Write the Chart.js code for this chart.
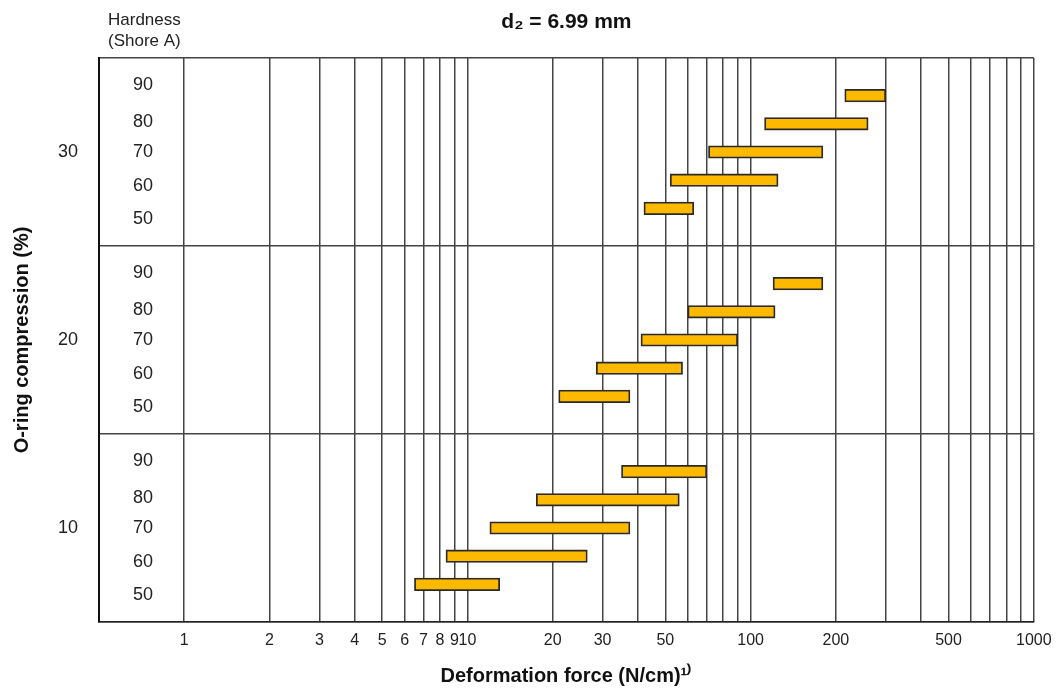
<!DOCTYPE html>
<html>
<head>
<meta charset="utf-8">
<script src="https://cdn.jsdelivr.net/npm/chart.js@4.4.1/dist/chart.umd.min.js"></script>
<style>
  html, body { margin: 0; padding: 0; background: #fff; }
  #wrap { width: 1061px; height: 693px; position: relative; }
</style>
</head>
<body>
<div id="wrap"><canvas id="grafico"></canvas></div>
<script>
// DATA
const compression = [10, 20, 30];          // O-ring compression (%)
const hardness = [50, 60, 70, 80, 90];     // Shore A
// deformation force ranges (N/cm), one entry per hardness
const forceLow10 = [6.5, 8.4, 12, 17.5, 35];
const forceHigh10 = [13, 26.5, 37.5, 56, 70];
const forceLow20 = [21, 28.5, 41, 60, 120];
const forceHigh20 = [37.5, 57.5, 90, 122, 180];
const forceLow30 = [42, 52, 71, 112, 215];
const forceHigh30 = [63, 125, 180, 260, 300];
// x axis
const xGridValues = [1, 2, 3, 4, 5, 6, 7, 8, 9, 10, 20, 30, 40, 50, 60, 70, 80, 90,
  100, 200, 300, 400, 500, 600, 700, 800, 900, 1000];
const xLabelValues = [1, 2, 3, 4, 5, 6, 7, 8, 9, 10, 20, 30, 50, 100, 200, 500, 1000];

// each compression band is 10 units tall on the y scale
const bandHeight = 10;
const barRowOffset = [2, 3.5, 5, 6.5, 8];
const labelRowOffset = [1.45, 3.2, 5, 6.6, 8.55];

const fontFamily = '"Liberation Sans", Arial, Helvetica, sans-serif';
const lineColor = '#444';

// build bar points
const lows = [forceLow10, forceLow20, forceLow30];
const highs = [forceHigh10, forceHigh20, forceHigh30];
let barPoints = [];
for (let b = 0; b < compression.length; b++) {
  for (let i = 0; i < hardness.length; i++) {
    barPoints.push({ x: [lows[b][i], highs[b][i]], y: b * bandHeight + barRowOffset[i] });
  }
}

let hardnessTicks = [];
for (let b = 0; b < compression.length; b++) {
  for (let i = 0; i < hardness.length; i++) {
    hardnessTicks.push(b * bandHeight + labelRowOffset[i]);
  }
}

// "Hardness (Shore A)" heading above the hardness column
const hardnessHeading = {
  id: 'hardnessHeading',
  afterDraw(chart) {
    const ctx = chart.ctx;
    ctx.save();
    ctx.font = '17px ' + fontFamily;
    ctx.fillStyle = '#222';
    ctx.textBaseline = 'middle';
    ctx.textAlign = 'left';
    ctx.fillText('Hardness', chart.chartArea.left + 9, 20);
    ctx.fillText('(Shore A)', chart.chartArea.left + 9, 41);
    ctx.restore();
  }
};

new Chart(document.getElementById('grafico'), {
  type: 'bar',
  data: {
    datasets: [{
      data: barPoints,
      backgroundColor: '#FDB900',
      borderColor: '#2a2a2a',
      borderWidth: 1.8,
      borderSkipped: false,
      barThickness: 12.5
    }]
  },
  options: {
    indexAxis: 'y',
    responsive: true,
    maintainAspectRatio: false,
    animation: false,
    layout: { padding: { left: 6, right: 27, top: 0, bottom: 0 } },
    plugins: {
      legend: { display: false },
      tooltip: { enabled: false },
      title: {
        display: true,
        text: 'd₂ = 6.99 mm',
        fullSize: false,
        color: '#111',
        font: { family: fontFamily, size: 21, weight: 'bold' },
        padding: { top: 9.4, bottom: 23.4 }
      }
    },
    scales: {
      x: {
        type: 'logarithmic',
        min: 0.5,
        max: 1000,
        afterBuildTicks: (axis) => { axis.ticks = xGridValues.map(v => ({ value: v })); },
        grid: { color: lineColor, lineWidth: 1.5, drawTicks: false },
        border: { color: '#222', width: 1.6 },
        ticks: {
          autoSkip: false,
          maxRotation: 0,
          minRotation: 0,
          padding: 9.4,
          color: '#222',
          font: { family: fontFamily, size: 16 },
          callback: (v) => xLabelValues.includes(v) ? String(v) : ''
        },
        title: {
          display: true,
          text: 'Deformation force (N/cm)¹⁾',
          color: '#111',
          font: { family: fontFamily, size: 20, weight: 'bold' },
          padding: { top: 4, bottom: 5 }
        }
      },
      y: {
        type: 'linear',
        position: 'left',
        weight: 1,
        min: 0,
        max: 30,
        offset: false,
        afterBuildTicks: (axis) => {
          let t = [];
          for (let v = 0; v <= 30; v += 5) t.push({ value: v });
          axis.ticks = t;
        },
        afterFit: (axis) => { axis.width = 93; },
        grid: {
          offset: false,
          drawTicks: false,
          lineWidth: 1.5,
          color: (ctx) => (ctx.tick && ctx.tick.value % bandHeight === 0) ? lineColor : 'rgba(0,0,0,0)'
        },
        border: { color: '#111', width: 2 },
        ticks: {
          padding: 21,
          color: '#222',
          font: { family: fontFamily, size: 18 },
          callback: (v) => {
            const k = (v - bandHeight / 2) / bandHeight;
            return Number.isInteger(k) ? String(compression[k]) : '';
          }
        },
        title: {
          display: true,
          text: 'O-ring compression (%)',
          color: '#111',
          font: { family: fontFamily, size: 20, weight: 'bold' },
          padding: { top: 4, bottom: 4 }
        }
      },
      yh: {
        type: 'linear',
        position: 'left',
        weight: 0,
        min: 0,
        max: 30,
        offset: false,
        afterBuildTicks: (axis) => { axis.ticks = hardnessTicks.map(v => ({ value: v })); },
        afterFit: (axis) => { axis.width = 0; },
        grid: { display: false, drawTicks: false, offset: false },
        border: { display: false },
        ticks: {
          mirror: true,
          padding: 34,
          color: '#222',
          font: { family: fontFamily, size: 18 },
          callback: (v, index) => String(hardness[index % hardness.length])
        }
      }
    }
  },
  plugins: [hardnessHeading]
});
</script>
</body>
</html>
